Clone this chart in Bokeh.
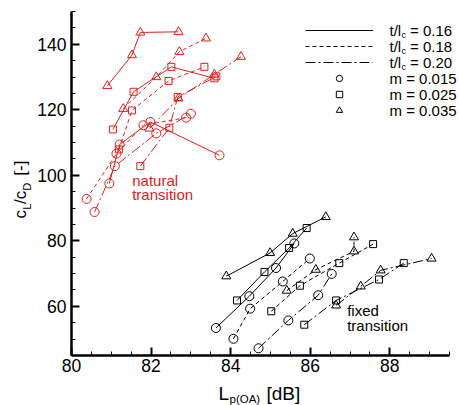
import math
from bokeh.plotting import figure
from bokeh.models import Range1d, SingleIntervalTicker, Label, Legend, LegendItem
from bokeh.embed import file_html
from bokeh.resources import INLINE

# ---------------- data ----------------
t_values = ["0.16", "0.18", "0.20"]
m_values = ["0.015", "0.025", "0.035"]

# natural transition (red)
nat_m015_t16_x = [80.95, 81.21, 81.98, 83.72]
nat_m015_t16_y = [97.5, 109.4, 116.3, 106.1]
nat_m015_t18_x = [80.38, 81.13, 81.81, 82.88]
nat_m015_t18_y = [92.8, 106.6, 115.3, 117.6]
nat_m015_t20_x = [80.58, 81.09, 82.13, 83.00]
nat_m015_t20_y = [88.8, 102.8, 112.8, 118.8]

nat_m025_t16_x = [81.04, 81.56, 82.51, 83.59]
nat_m025_t16_y = [114.0, 125.5, 133.1, 129.6]
nat_m025_t18_x = [81.19, 81.52, 82.44, 83.34]
nat_m025_t18_y = [107.9, 119.8, 128.8, 133.1]
nat_m025_t20_x = [81.73, 82.46, 82.67, 83.64]
nat_m025_t20_y = [102.8, 114.5, 123.9, 130.2]

nat_m035_t16_x = [80.90, 81.52, 81.73, 82.69]
nat_m035_t16_y = [127.3, 136.7, 143.6, 143.8]
nat_m035_t18_x = [81.30, 82.13, 82.71, 83.38]
nat_m035_t18_y = [120.3, 130.0, 137.7, 141.8]
nat_m035_t20_x = [81.96, 82.69, 83.59, 84.26]
nat_m035_t20_y = [114.3, 123.5, 130.8, 136.2]

# fixed transition (black)
fix_m015_t16_x = [83.63, 84.47, 85.14, 85.60]
fix_m015_t16_y = [53.4, 63.1, 71.7, 79.2]
fix_m015_t18_x = [84.07, 84.49, 85.31, 85.99]
fix_m015_t18_y = [50.1, 59.3, 67.6, 74.6]
fix_m015_t20_x = [84.70, 85.45, 86.20, 86.54]
fix_m015_t20_y = [47.2, 55.7, 63.4, 69.9]

fix_m025_t16_x = [84.16, 84.85, 85.47, 85.91]
fix_m025_t16_y = [61.8, 70.5, 77.8, 83.9]
fix_m025_t18_x = [85.02, 85.74, 86.73, 87.58]
fix_m025_t18_y = [58.5, 66.3, 73.2, 79.0]
fix_m025_t20_x = [85.85, 86.65, 87.73, 88.35]
fix_m025_t20_y = [54.4, 61.8, 68.2, 73.2]

fix_m035_t16_x = [83.89, 84.99, 85.56, 86.39]
fix_m035_t16_y = [69.2, 76.3, 82.2, 87.3]
fix_m035_t18_x = [85.41, 86.14, 87.10, 87.10]
fix_m035_t18_y = [64.8, 71.2, 76.8, 81.1]
fix_m035_t20_x = [86.65, 87.27, 87.77, 89.05]
fix_m035_t20_y = [60.3, 66.1, 71.0, 74.6]

# ---------------- geometry ----------------
W, H = 459, 405
X0, X1, Y0, Y1 = 80.0, 89.5, 45.0, 150.0          # axis extents
PX_L, PX_R, PY_T, PY_B = 71.0, 449.0, 11.0, 355.0  # where the axes sit (px)
sx = (PX_R - PX_L) / (X1 - X0)
sy = (PY_B - PY_T) / (Y1 - Y0)
x_range = Range1d(X0 - PX_L / sx, X0 + (W - PX_L) / sx)
y_range = Range1d(Y0 - (H - PY_B) / sy, Y1 + PY_T / sy)

RED = "#e0201c"
FONT = "Liberation Sans"
DASH = {"0.16": "solid", "0.18": "4 3", "0.20": "10 3 2 3"}
MARKER = {"0.015": "circle", "0.025": "square", "0.035": "triangle"}
MSIZE = {"0.015": 9, "0.025": 7, "0.035": 9}

p = figure(width=W, height=H, output_backend="svg", toolbar_location=None,
           x_range=x_range, y_range=y_range,
           min_border_left=0, min_border_right=0, min_border_top=0,
           min_border_bottom=0)
p.outline_line_color = None
p.grid.visible = False
p.background_fill_color = "white"
p.border_fill_color = "white"

for ax in (p.xaxis[0], p.yaxis[0]):
    ax.axis_line_width = 2.5
    ax.major_tick_in = 8
    ax.major_tick_out = 0
    ax.major_tick_line_width = 2
    ax.minor_tick_in = 4
    ax.minor_tick_out = 0
    ax.minor_tick_line_width = 1
    ax.major_label_text_font = FONT
    ax.major_label_text_font_size = "17.5px"
    ax.major_label_text_color = "black"
p.xaxis.ticker = SingleIntervalTicker(interval=2, num_minor_ticks=4)
p.yaxis.ticker = SingleIntervalTicker(interval=20, num_minor_ticks=4)
p.xaxis.fixed_location = Y0
p.yaxis.fixed_location = X0
p.xaxis.bounds = (X0, X1)
p.yaxis.bounds = (Y0, Y1)
p.xaxis.major_label_standoff = 3
p.yaxis.major_label_standoff = 5

series = {
    ("nat", "0.015", "0.16"): (nat_m015_t16_x, nat_m015_t16_y),
    ("nat", "0.015", "0.18"): (nat_m015_t18_x, nat_m015_t18_y),
    ("nat", "0.015", "0.20"): (nat_m015_t20_x, nat_m015_t20_y),
    ("nat", "0.025", "0.16"): (nat_m025_t16_x, nat_m025_t16_y),
    ("nat", "0.025", "0.18"): (nat_m025_t18_x, nat_m025_t18_y),
    ("nat", "0.025", "0.20"): (nat_m025_t20_x, nat_m025_t20_y),
    ("nat", "0.035", "0.16"): (nat_m035_t16_x, nat_m035_t16_y),
    ("nat", "0.035", "0.18"): (nat_m035_t18_x, nat_m035_t18_y),
    ("nat", "0.035", "0.20"): (nat_m035_t20_x, nat_m035_t20_y),
    ("fix", "0.015", "0.16"): (fix_m015_t16_x, fix_m015_t16_y),
    ("fix", "0.015", "0.18"): (fix_m015_t18_x, fix_m015_t18_y),
    ("fix", "0.015", "0.20"): (fix_m015_t20_x, fix_m015_t20_y),
    ("fix", "0.025", "0.16"): (fix_m025_t16_x, fix_m025_t16_y),
    ("fix", "0.025", "0.18"): (fix_m025_t18_x, fix_m025_t18_y),
    ("fix", "0.025", "0.20"): (fix_m025_t20_x, fix_m025_t20_y),
    ("fix", "0.035", "0.16"): (fix_m035_t16_x, fix_m035_t16_y),
    ("fix", "0.035", "0.18"): (fix_m035_t18_x, fix_m035_t18_y),
    ("fix", "0.035", "0.20"): (fix_m035_t20_x, fix_m035_t20_y),
}

line_r, mark_r = {}, {}
for (grp, m, t), (xs, ys) in series.items():
    col = RED if grp == "nat" else "black"
    lr = p.line(xs, ys, line_color=col, line_width=1, line_dash=DASH[t])
    mr = p.scatter(xs, ys, marker=MARKER[m], size=MSIZE[m], line_color=col,
                   fill_alpha=0, line_width=1)
    if grp == "fix":
        line_r.setdefault(t, lr)
        mark_r.setdefault(m, mr)

# ---------------- legend (glyphs) ----------------
items = [LegendItem(label=" ", renderers=[line_r[t]]) for t in t_values]
items += [LegendItem(label=" ", renderers=[mark_r[m]]) for m in m_values]
legend = Legend(items=items, location=(305, H - 118), glyph_width=68,
                glyph_height=16, label_height=8, spacing=0, padding=0, margin=0,
                border_line_color=None, background_fill_alpha=0,
                label_standoff=0, label_text_font=FONT,
                label_text_font_size="6px")
p.add_layout(legend)

# helper: text centred vertically on page pixel y
def lab(text, px, py, size, color="black", align="left", angle=0.0):
    p.add_layout(Label(x=X0, y=Y1, x_offset=px - PX_L, y_offset=-(py - PY_T),
                       text=text, text_font=FONT, text_font_size=size,
                       text_color=color, text_baseline="middle",
                       text_align=align, angle=angle))

# legend texts
rows = [30 + 16 * i for i in range(6)]
for t, ry in zip(t_values, rows[:3]):
    lab("t/l", 389, ry, "15px")
    lab("c", 401, ry + 4.5, "9px")
    lab(f"= {t}", 409.5, ry, "15px")
for m, ry in zip(m_values, rows[3:]):
    lab(f"m = {m}", 389, ry, "15px")

# annotations (centre = baseline - 0.35 em)
lab("natural", 131.7, 179.8, "15px", color=RED)
lab("transition", 131.7, 194.1, "15px", color=RED)
lab("fixed", 346.7, 309.8, "15px")
lab("transition", 346.7, 324.8, "15px")

# x axis label
lab("L", 218, 393.4, "19px")
lab("p(OA)", 229, 398.2, "11.5px")
lab("[dB]", 266, 393.4, "19px")

# y axis label (rotated, each piece centred)
A = math.pi / 2
lab("c", 19.6, 213.7, "17px", align="center", angle=A)
lab("L", 26.7, 206.2, "11px", align="center", angle=A)
lab("/c", 19.6, 196.8, "17px", align="center", angle=A)
lab("D", 26.7, 186.2, "11px", align="center", angle=A)
lab("[-]", 19.6, 167.7, "17px", align="center", angle=A)

open("out.html", "w").write(file_html(p, INLINE))
